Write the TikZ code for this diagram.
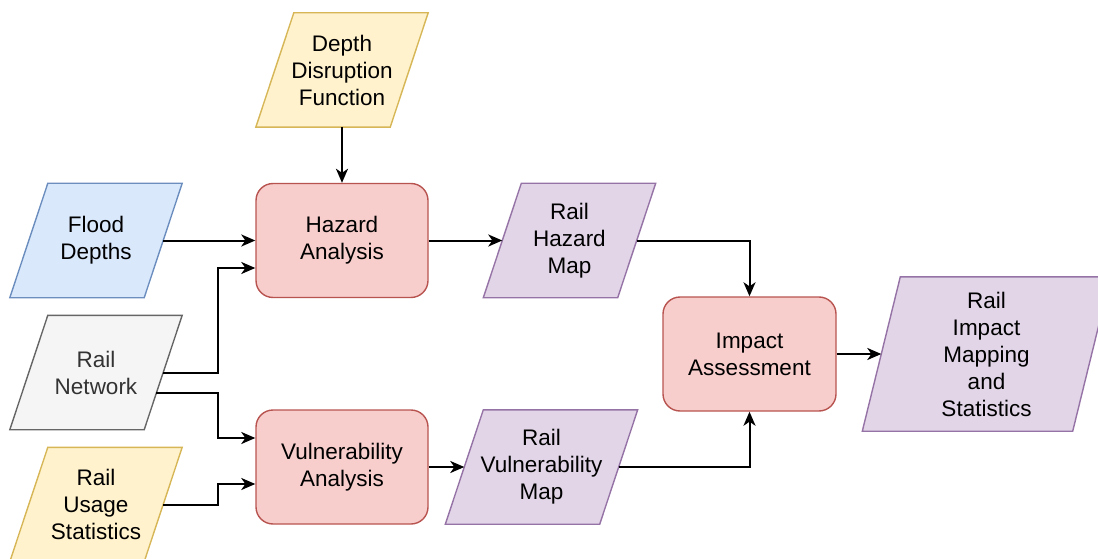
\documentclass[tikz,border=0pt]{standalone}
\usepackage{fontspec}
\setmainfont{Liberation Sans}
\usetikzlibrary{arrows.meta,backgrounds,calc}

\definecolor{bluefill}{HTML}{DAE8FC}\definecolor{blueline}{HTML}{6C8EBF}
\definecolor{yelfill}{HTML}{FFF2CC}\definecolor{yelline}{HTML}{D6B656}
\definecolor{grayfill}{HTML}{F5F5F5}\definecolor{grayline}{HTML}{666666}
\definecolor{graytext}{HTML}{333333}
\definecolor{redfill}{HTML}{F8CECC}\definecolor{redline}{HTML}{B85450}
\definecolor{purfill}{HTML}{E1D5E7}\definecolor{purline}{HTML}{9673A6}

\tikzset{
  txt/.style={align=center,inner sep=0pt,font=\fontsize{22.5}{27}\selectfont},
  databox/.style={txt,minimum height=114pt},
  procbox/.style={txt,draw=redline,fill=redfill,line width=1.4pt,
    rounded corners=17pt,minimum width=172pt,minimum height=114pt},
  flow/.style={line width=2pt,-{Stealth[length=14pt,width=12pt,inset=4pt]}},
  bluepara/.style={fill=bluefill,draw=blueline,line width=1.4pt},
  yelpara/.style={fill=yelfill,draw=yelline,line width=1.4pt},
  graypara/.style={fill=grayfill,draw=grayline,line width=1.4pt},
  purpara/.style={fill=purfill,draw=purline,line width=1.4pt},
}

% data node: text node plus a slanted outline behind it (skew 19pt each side)
\newcommand\datanode[5]{%
  \node[databox,minimum width=#3pt] (#1) at (#2) {#5};
  \begin{pgfonlayer}{background}
    \path[#4] ([xshift=19pt]#1.north west) -- ([xshift=19pt]#1.north east)
      -- ([xshift=-19pt]#1.south east) -- ([xshift=-19pt]#1.south west) -- cycle;
  \end{pgfonlayer}}

\begin{document}
\begin{tikzpicture}[x=1pt,y=-1pt]
  \useasboundingbox (0,0) rectangle (1098,559);

  % inputs
  \datanode{ddf}{342,70}{134}{yelpara}{Depth\\Disruption\\Function}
  \datanode{fd}{96,240.5}{134}{bluepara}{Flood\\Depths}
  \datanode{rn}{96,372.5}{134}{graypara}{\color{graytext}Rail\\\color{graytext}Network}
  \datanode{rus}{96,504.5}{134}{yelpara}{Rail\\Usage\\Statistics}

  % processes
  \node[procbox] (ha) at (342,240.5) {Hazard\\Analysis};
  \node[procbox] (va) at (342,467) {Vulnerability\\Analysis};
  \node[procbox,minimum width=173pt] (ia) at (749.5,354) {Impact\\Assessment};

  % intermediate and final outputs
  \datanode{rhm}{569.5,240.5}{134}{purpara}{Rail\\Hazard\\Map}
  \datanode{rvm}{541.5,467}{154}{purpara}{Rail\\Vulnerability\\Map}
  \node[databox,minimum width=210pt,minimum height=154pt] (rims) at (986.5,354)
    {Rail\\Impact\\Mapping\\and\\Statistics};
  \begin{pgfonlayer}{background}
    \path[purpara] ([xshift=19pt]rims.north west) -- ([xshift=19pt]rims.north east)
      -- ([xshift=-19pt]rims.south east) -- ([xshift=-19pt]rims.south west) -- cycle;
  \end{pgfonlayer}

  % connectors
  \draw[flow] (ddf.south) -- (ha.north);
  \draw[flow] (fd.east) -- (ha.west);
  \draw[flow] (rn.east) -- ++(55,0) |- ([yshift=-27.5pt]ha.west);
  \draw[flow] ([xshift=-7pt,yshift=-20.5pt]rn.east) -- ++(62,0) |- ([yshift=29pt]va.west);
  \draw[flow] (rus.east) -- ++(55,0) |- ([yshift=-17pt]va.west);
  \draw[flow] (ha.east) -- (rhm.west);
  \draw[flow] (va.east) -- (rvm.west);
  \draw[flow] (rhm.east) -| (ia.north);
  \draw[flow] (rvm.east) -| (ia.south);
  \draw[flow] (ia.east) -- (rims.west);
\end{tikzpicture}
\end{document}
